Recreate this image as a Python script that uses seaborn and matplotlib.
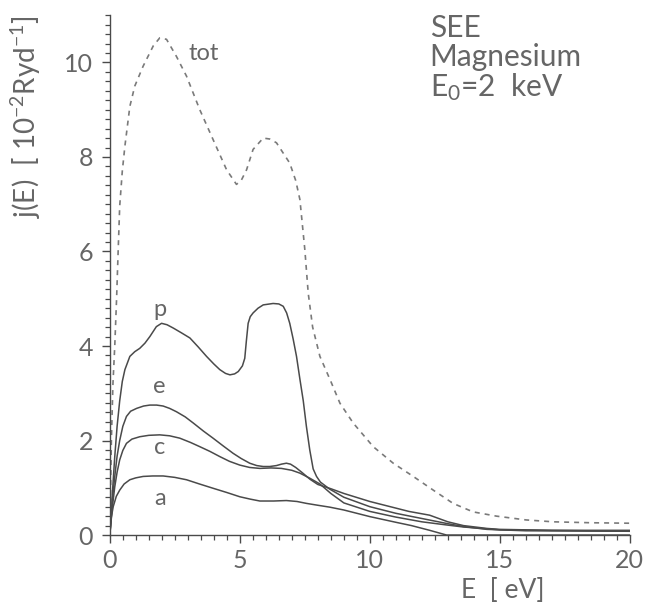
import matplotlib
matplotlib.use("Agg")
import matplotlib.pyplot as plt
from matplotlib.ticker import MultipleLocator
import numpy as np
import pandas as pd
import seaborn as sns

# Secondary-electron emission spectrum of Mg, E0 = 2 keV, split into contributions
tot_E = [0.0, 0.06, 0.12, 0.19, 0.26, 0.32, 0.38, 0.48, 0.58, 0.77, 0.96, 1.28, 1.67, 1.92,
         2.18, 2.56, 2.95, 3.46, 3.97, 4.49, 4.87, 5.05, 5.26, 5.51, 5.9, 6.15, 6.41, 6.92,
         7.15, 7.31, 7.5, 7.63, 7.8, 8.08, 8.5, 8.85, 9.36, 10.13, 10.9, 11.67, 12.44,
         13.2, 13.97, 14.87, 16.0, 17.05, 18.5, 20.0]
tot_j = [0.0, 2.0, 3.2, 4.0, 5.0, 6.0, 6.96, 7.7, 8.23, 9.07, 9.5, 9.92, 10.35, 10.52,
         10.49, 10.13, 9.71, 9.0, 8.37, 7.73, 7.42, 7.5, 7.73, 8.16, 8.40, 8.38, 8.30, 7.87,
         7.5, 7.1, 6.04, 5.12, 4.4, 3.78, 3.25, 2.79, 2.37, 1.87, 1.52, 1.24, 0.95,
         0.67, 0.49, 0.40, 0.32, 0.28, 0.26, 0.25]

p_E = [0.0, 0.1, 0.19, 0.28, 0.38, 0.48, 0.58, 0.77, 0.96, 1.15, 1.35, 1.54, 1.79, 1.99,
       2.2, 2.44, 2.75, 3.08, 3.4, 3.72, 4.0, 4.23, 4.45, 4.62, 4.8, 4.94, 5.1, 5.19, 5.25,
       5.32, 5.4, 5.51, 5.7, 5.9, 6.28, 6.5, 6.67, 6.8, 6.92, 7.05, 7.18, 7.31, 7.44, 7.56,
       7.69, 7.82, 7.95, 8.1, 8.46, 9.0, 10.0, 11.0, 12.0, 13.0, 13.6, 14.5, 16.0, 20.0]
p_j = [0.0, 0.9, 1.66, 2.3, 2.84, 3.25, 3.5, 3.78, 3.88, 3.95, 4.06, 4.2, 4.41, 4.48,
       4.45, 4.38, 4.28, 4.17, 3.98, 3.78, 3.62, 3.50, 3.42, 3.39, 3.41, 3.46, 3.58, 3.74, 4.1,
       4.48, 4.62, 4.70, 4.80, 4.87, 4.90, 4.89, 4.84, 4.70, 4.48, 4.15, 3.78, 3.3, 2.84, 2.3,
       1.80, 1.4, 1.24, 1.12, 0.97, 0.80, 0.60, 0.46, 0.35, 0.24, 0.18, 0.12, 0.09, 0.08]

e_E = [0.0, 0.1, 0.19, 0.28, 0.38, 0.5, 0.64, 0.8, 1.03, 1.3, 1.54, 1.8, 2.05, 2.3, 2.56,
       2.9, 3.21, 3.6, 3.97, 4.35, 4.74, 5.05, 5.38, 5.65, 5.9, 6.15, 6.41, 6.6, 6.79, 6.95,
       7.15, 7.4, 7.7, 8.0, 8.5, 9.0, 10.0, 11.0, 11.5, 12.0, 12.3, 12.6, 13.0, 13.6, 14.5,
       15.0, 17.0, 20.0]
e_j = [0.0, 0.75, 1.24, 1.67, 2.0, 2.3, 2.51, 2.62, 2.68, 2.73, 2.75, 2.75, 2.73, 2.68, 2.61,
       2.5, 2.37, 2.2, 2.05, 1.89, 1.73, 1.62, 1.52, 1.47, 1.45, 1.45, 1.47, 1.5, 1.52, 1.5,
       1.43, 1.32, 1.18, 1.07, 0.98, 0.88, 0.71, 0.57, 0.5, 0.45, 0.42, 0.36, 0.28, 0.2, 0.14,
       0.12, 0.1, 0.1]

c_E = [0.0, 0.1, 0.19, 0.28, 0.38, 0.5, 0.64, 0.85, 1.15, 1.5, 1.92, 2.3, 2.69, 3.1, 3.46,
       3.85, 4.23, 4.6, 5.0, 5.38, 5.77, 6.2, 6.6, 7.0, 7.31, 7.7, 8.08, 8.5, 9.0, 10.0, 11.0,
       12.0, 13.0, 13.6, 15.0, 20.0]
c_j = [0.0, 0.6, 1.02, 1.33, 1.59, 1.79, 1.94, 2.03, 2.08, 2.11, 2.12, 2.1, 2.05, 1.96, 1.87,
       1.77, 1.66, 1.56, 1.48, 1.43, 1.41, 1.42, 1.41, 1.37, 1.31, 1.2, 1.08, 0.88, 0.68, 0.50,
       0.38, 0.28, 0.21, 0.17, 0.11, 0.08]

a_E = [0.0, 0.05, 0.13, 0.25, 0.38, 0.55, 0.77, 1.0, 1.28, 1.65, 2.05, 2.5, 2.95, 3.45, 3.97,
       4.5, 5.0, 5.4, 5.77, 6.3, 6.79, 7.2, 7.56, 8.0, 8.46, 9.0, 10.0, 11.0, 11.6, 12.3,
       12.95, 20.0]
a_j = [0.0, 0.35, 0.60, 0.82, 0.95, 1.08, 1.17, 1.21, 1.24, 1.25, 1.25, 1.22, 1.17, 1.08, 0.99,
       0.9, 0.81, 0.76, 0.72, 0.72, 0.73, 0.71, 0.67, 0.63, 0.59, 0.53, 0.39, 0.27, 0.2, 0.1,
       0.0, 0.0]

# label text and anchor for each curve (energy in eV, j in 10^-2 Ryd^-1)
curve_names = ["tot", "p", "e", "c", "a"]
label_E = [3.6, 1.92, 1.92, 1.92, 1.92]
label_j = [10.2, 4.77, 3.14, 1.86, 0.78]

sns.set_style("ticks")
plt.rcParams["font.family"] = ["Lato", "DejaVu Sans"]
plt.rcParams["font.weight"] = "normal"
plt.rcParams["mathtext.fontset"] = "custom"
plt.rcParams["mathtext.rm"] = "Lato"
plt.rcParams["mathtext.it"] = "Lato"

TXT = "#666666"
LINE = "#4a4a4a"

fig = plt.figure(figsize=(6.46, 6.08), dpi=100)
ax = fig.add_axes([0.170, 0.120, 0.805, 0.855])

series = {"tot": (tot_E, tot_j), "p": (p_E, p_j), "e": (e_E, e_j),
          "c": (c_E, c_j), "a": (a_E, a_j)}
for name in ["a", "c", "e", "p"]:
    E, j = series[name]
    df = pd.DataFrame({"E": E, "j": j})
    sns.lineplot(data=df, x="E", y="j", ax=ax, sort=False, estimator=None,
                 color=LINE, linewidth=1.1)
df_tot = pd.DataFrame({"E": tot_E, "j": tot_j})
sns.lineplot(data=df_tot, x="E", y="j", ax=ax, sort=False, estimator=None,
             color="#7a7a7a", linewidth=1.2, linestyle=(0, (3.0, 3.0)))

for name, xe, yj in zip(curve_names, label_E, label_j):
    ax.text(xe, yj, name, fontsize=17, color=TXT, ha="center", va="center")

ax.text(12.3, 11.02, "SEE\nMagnesium\nE$_\\mathrm{0}$=2  keV", fontsize=21.5, color=TXT,
        ha="left", va="top", linespacing=1.02)

ax.set_xlim(0, 20)
ax.set_ylim(0, 11)
ax.xaxis.set_major_locator(MultipleLocator(5))
ax.xaxis.set_minor_locator(MultipleLocator(0.5))
ax.yaxis.set_major_locator(MultipleLocator(2))
ax.yaxis.set_minor_locator(MultipleLocator(0.2))

sns.despine(ax=ax)
for s in ["left", "bottom"]:
    ax.spines[s].set_color(LINE)
    ax.spines[s].set_linewidth(1.0)
ax.tick_params(which="major", direction="out", length=6, width=1.0, color=LINE,
               labelsize=18, labelcolor=TXT)
ax.tick_params(which="minor", direction="out", length=3.5, width=0.9, color=LINE)
ax.tick_params(axis="x", which="major", pad=4)
ax.tick_params(axis="y", which="major", pad=6)

ax.set_xlabel("E  [ eV]", fontsize=19, color=TXT)
ax.xaxis.set_label_coords(0.756, -0.083)
ax.set_ylabel("j(E)  [ 10$^{-2}$Ryd$^{-1}$]", fontsize=20, color=TXT, loc="top")
ax.yaxis.set_label_coords(-0.128, 1.0)

fig.savefig("out.png", dpi=100)
